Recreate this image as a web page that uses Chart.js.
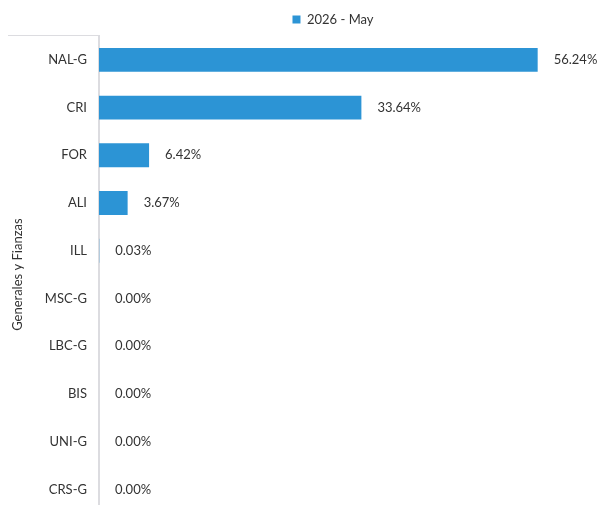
<!DOCTYPE html>
<html>
<head>
	<meta charset="utf-8">
	<title>Generales y Fianzas</title>
	<script type="text/javascript" src="https://cdn.jsdelivr.net/npm/chart.js@4/dist/chart.umd.min.js"></script>
	<style>
		html, body { margin: 0; padding: 0; background: #ffffff; }
		#wrap { width: 603px; height: 505px; overflow: hidden; }
	</style>
</head>
<body>
	<div id="wrap">
		<canvas id="myChart" width="603" height="533"></canvas>
	</div>
	<script>
		// datos
		var categories = ['NAL-G', 'CRI', 'FOR', 'ALI', 'ILL', 'MSC-G', 'LBC-G', 'BIS', 'UNI-G', 'CRS-G'];
		var values = [56.24, 33.64, 6.42, 3.67, 0.03, 0.00, 0.00, 0.00, 0.00, 0.00];
		var seriesName = '2026 - May';
		var groupTitle = 'Generales y Fianzas';

		var fontName = 'Lato, "Noto Sans", sans-serif';
		var textColor = '#333333';
		var lineColor = '#dcdce0';

		// etiquetas de valor a la derecha de cada barra
		var valueLabels = {
			id: 'valueLabels',
			afterDatasetsDraw: function(chart) {
				var ctx = chart.ctx;
				var meta = chart.getDatasetMeta(0);
				ctx.save();
				ctx.font = '13px ' + fontName;
				ctx.fillStyle = textColor;
				ctx.textAlign = 'left';
				ctx.textBaseline = 'middle';
				meta.data.forEach(function(bar, i) {
					ctx.fillText(values[i].toFixed(2) + '%', bar.x + 16, bar.y);
				});
				ctx.restore();
			}
		};

		// linea superior del grupo
		var groupLine = {
			id: 'groupLine',
			afterDraw: function(chart) {
				var ctx = chart.ctx;
				var y = Math.round(chart.chartArea.top) - 0.5;
				ctx.save();
				ctx.strokeStyle = lineColor;
				ctx.lineWidth = 1;
				ctx.beginPath();
				ctx.moveTo(8, y);
				ctx.lineTo(chart.scales.y.right, y);
				ctx.stroke();
				ctx.restore();
			}
		};

		var ctx = document.getElementById('myChart').getContext('2d');
		var myChart = new Chart(ctx, {
			type: 'bar',
			data: {
				labels: categories,
				datasets: [{
					label: seriesName,
					data: values,
					backgroundColor: '#2c94d5',
					borderWidth: 0,
					barPercentage: 0.5,
					categoryPercentage: 1.0
				}]
			},
			options: {
				indexAxis: 'y',
				responsive: false,
				animation: false,
				layout: {
					padding: { top: 3, right: 36, bottom: 19, left: 0 }
				},
				scales: {
					x: {
						display: false,
						min: 0,
						max: 60
					},
					y: {
						afterFit: function(scale) { scale.width = 99; },
						grid: { display: false, drawTicks: false },
						border: { display: true, color: lineColor, width: 2 },
						ticks: {
							color: textColor,
							padding: 12,
							font: { family: fontName, size: 13 }
						},
						title: {
							display: true,
							text: groupTitle,
							color: textColor,
							padding: { top: 10, bottom: 0 },
							font: { family: fontName, size: 13 }
						}
					}
				},
				plugins: {
					legend: {
						position: 'top',
						fullSize: false,
						labels: {
							boxWidth: 8,
							boxHeight: 8,
							color: textColor,
							font: { family: fontName, size: 13 }
						}
					},
					tooltip: { enabled: false }
				}
			},
			plugins: [valueLabels, groupLine]
		});
	</script>
</body>
</html>
